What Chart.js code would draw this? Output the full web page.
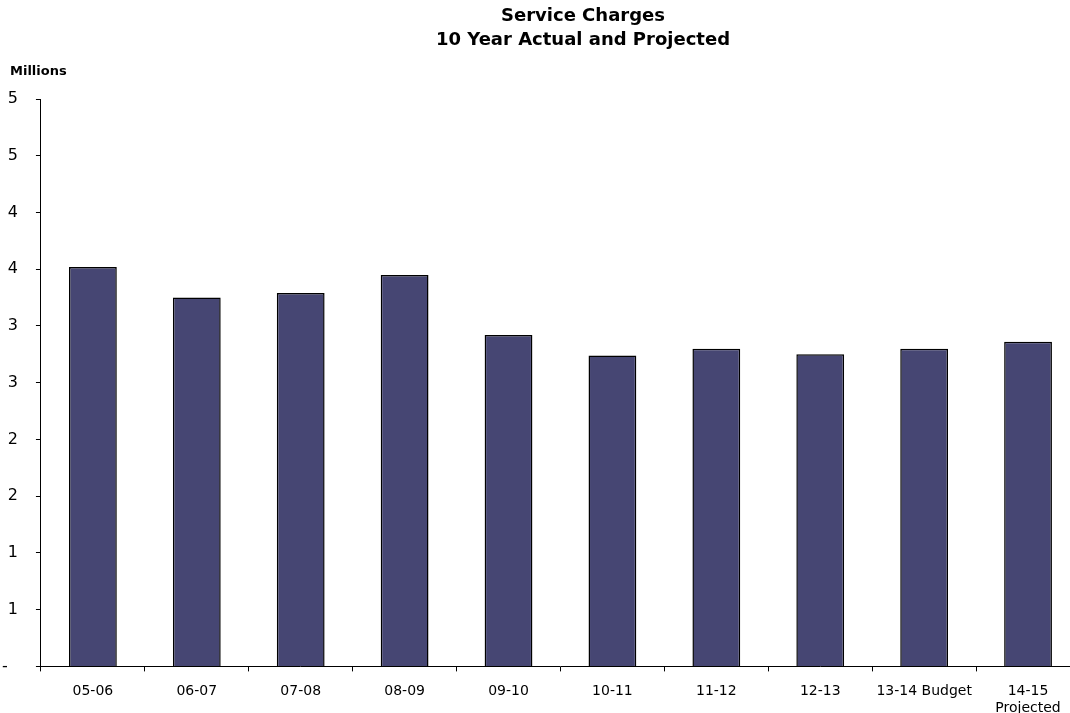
<!DOCTYPE html>
<html>
<head>
<meta charset="utf-8">
<title>Service Charges</title>
<script src="https://cdn.jsdelivr.net/npm/chart.js@4.4.0/dist/chart.umd.min.js"></script>
<style>
  html, body { margin: 0; padding: 0; background: #fff; overflow: hidden; }
  canvas { display: block; }
</style>
</head>
<body>
<canvas id="chart" width="1166" height="713"></canvas>
<script>
// fiscal years, last one is a projection
const years = ['05-06', '06-07', '07-08', '08-09', '09-10', '10-11', '11-12', '12-13', '13-14 Budget', ['14-15', 'Projected']];
// service charge revenue, millions
const serviceCharges = [3.52, 3.25, 3.29, 3.45, 2.92, 2.74, 2.80, 2.75, 2.80, 2.86];
const titleLines = ['Service Charges', '10 Year Actual and Projected'];
const unitLabel = 'Millions';

const FONT = "'DejaVu Sans', Verdana, sans-serif";

// two-line heading plus the "Millions" unit label over the value axis
const headingPlugin = {
  id: 'heading',
  afterDraw(chart) {
    const ctx = chart.ctx;
    ctx.save();
    ctx.fillStyle = '#000';
    ctx.textBaseline = 'middle';
    ctx.textAlign = 'center';
    ctx.font = 'bold 18px ' + FONT;
    titleLines.forEach((line, i) => ctx.fillText(line, 583, 16 + i * 24));
    ctx.textAlign = 'left';
    ctx.textBaseline = 'alphabetic';
    ctx.font = 'bold 13px ' + FONT;
    ctx.fillText(unitLabel, 10, 75);
    ctx.restore();
  }
};

new Chart(document.getElementById('chart'), {
  type: 'bar',
  data: {
    labels: years,
    datasets: [{
      data: serviceCharges,
      backgroundColor: '#464673',
      borderColor: '#000',
      borderWidth: 1.5,
      barPercentage: 0.92,
      categoryPercentage: 0.5
    }]
  },
  options: {
    responsive: false,
    animation: false,
    layout: { padding: { left: -16, right: 86, top: 99, bottom: -16 } },
    plugins: {
      legend: { display: false },
      tooltip: { enabled: false },
      title: { display: false }
    },
    scales: {
      x: {
        grid: {
          display: true,
          drawOnChartArea: false,
          offset: true,
          tickLength: 5,
          color: '#000'
        },
        border: { color: '#000', width: 1 },
        ticks: {
          color: '#000',
          font: { family: FONT, size: 14 },
          padding: 12,
          maxRotation: 0,
          autoSkip: false
        }
      },
      y: {
        min: 0,
        max: 5,
        grid: {
          display: true,
          drawOnChartArea: false,
          tickLength: 5,
          color: '#000'
        },
        border: { color: '#000', width: 1 },
        ticks: {
          stepSize: 0.5,
          color: '#000',
          padding: 18,
          font: { family: FONT, size: 16 },
          // accounting style: zero shown as a dash, halves rounded to whole millions
          callback: v => v === 0 ? '-  ' : String(Math.round(v))
        }
      }
    }
  },
  plugins: [headingPlugin]
});
</script>
</body>
</html>
